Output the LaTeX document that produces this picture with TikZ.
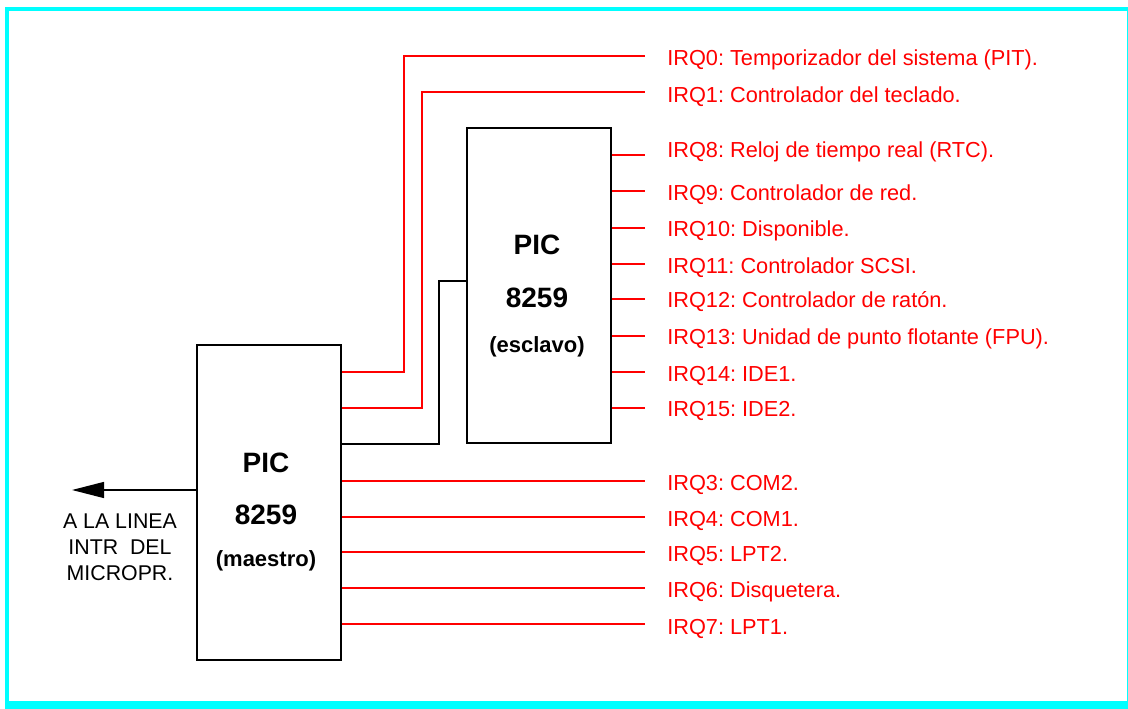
\documentclass[tikz,border=0pt]{standalone}
\usepackage{fontspec}
\setmainfont{Liberation Sans}
\usetikzlibrary{arrows.meta}
\definecolor{marco}{RGB}{0,255,255}
\frenchspacing
\tikzset{
  chip/.style={draw,line width=1pt,minimum width=108pt,minimum height=236.25pt,inner sep=0pt},
  chiptxt/.style={anchor=base,inner sep=0pt,font=\bfseries\fontsize{21}{25}\selectfont},
  chipsub/.style={anchor=base,inner sep=0pt,font=\bfseries\fontsize{16.5}{20}\selectfont},
  irqline/.style={red,line width=1pt},
  irqlabel/.style={red,anchor=base west,inner sep=0pt,font=\fontsize{16.3}{19}\selectfont},
}
\begin{document}
\begin{tikzpicture}[x=0.75pt,y=-0.75pt]
  \useasboundingbox (0,0) rectangle (1128,709);
  % marco
  \fill[marco] (5,7) rectangle (1128,11);
  \fill[marco] (5,7) rectangle (9,709);
  \fill[marco] (5,701) rectangle (1128,709);
  \fill[marco] (1126.5,7) rectangle (1128,709);
  % los dos PIC
  \node[chip] (maestro) at (269,502.5) {};
  \node[chip] (esclavo) at (539,285.5) {};
  \node[chiptxt] (mpic) at (266,472) {PIC};
  \node[chiptxt] (mnum) at (266,524) {8259};
  \node[chipsub] (mrol) at (266,566) {(maestro)};
  \node[chiptxt] (epic) at (537,255) {PIC};
  \node[chiptxt] (enum) at (537,307) {8259};
  \node[chipsub] (erol) at (537,353) {(esclavo)};
  % salida INTR
  \coordinate (intr) at (72,490);
  \draw[line width=1pt,-{Triangle[length=24pt,width=12pt]}] (maestro.west |- intr) -- (intr);
  \node[align=center,inner sep=0pt,font=\fontsize{16}{19.5}\selectfont] (micro) at (120,547)
    {A LA LINEA\\INTR\ \ DEL\\MICROPR.};
  % cascada
  \coordinate (cas) at (467,281);
  \draw[line width=1pt] (maestro.east |- 0,444) -| (439,281) -- (esclavo.west |- cas);
  % IRQ0 e IRQ1
  \coordinate (e0) at (645,56);
  \coordinate (e1) at (645,92);
  \draw[irqline] (maestro.east |- 0,372) -| (404,56) -- (e0);
  \draw[irqline] (maestro.east |- 0,408) -| (422,92) -- (e1);
  \node[irqlabel] (l0) at (667,65.5) {IRQ0: Temporizador del sistema (PIT).};
  \node[irqlabel] (l1) at (667,102.5) {IRQ1: Controlador del teclado.};
  % esclavo
  \foreach \n/\ly/\ty/\txt in {8/155/150/Reloj de tiempo real (RTC).,
      9/191/193/Controlador de red., 10/228/229/Disponible.,
      11/264/266/Controlador SCSI., 12/299/300/Controlador de ratón.,
      13/336/337/Unidad de punto flotante (FPU)., 14/372/374/IDE1.,
      15/408/409/IDE2.} {
    \coordinate (e\n) at (645,\ly);
    \draw[irqline] (esclavo.east |- e\n) -- (e\n);
    \node[irqlabel] (l\n) at (667,\ty+7.5) {IRQ\n: \txt};
  }
  % maestro
  \foreach \n/\ly/\ty/\txt in {3/481/483/COM2., 4/517/519/COM1.,
      5/552/554/LPT2., 6/588/590/Disquetera., 7/624/627/LPT1.} {
    \coordinate (e\n) at (645,\ly);
    \draw[irqline] (maestro.east |- e\n) -- (e\n);
    \node[irqlabel] (l\n) at (667,\ty+7.5) {IRQ\n: \txt};
  }
\end{tikzpicture}
\end{document}
